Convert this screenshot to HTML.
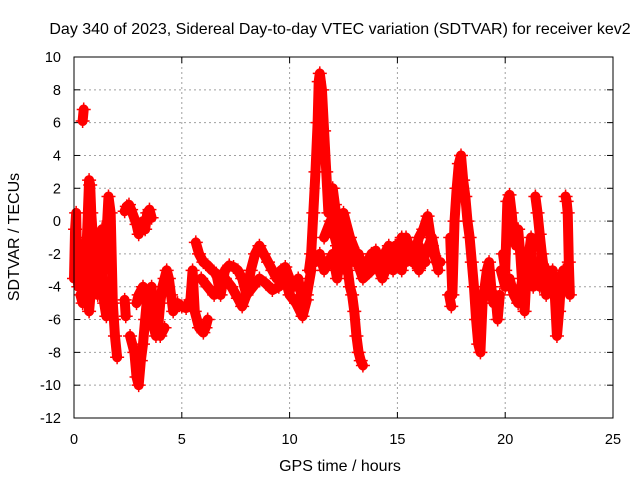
<!DOCTYPE html>
<html><head><meta charset="utf-8"><style>
body{margin:0;background:#fff}
svg{display:block;font-family:"Liberation Sans",sans-serif}
</style></head><body>
<svg id="c" width="640" height="480">
<text x="340" y="34" font-size="16" text-anchor="middle">Day 340 of 2023, Sidereal Day-to-day VTEC variation (SDTVAR) for receiver kev2</text>
<text x="340" y="471" font-size="16" text-anchor="middle">GPS time / hours</text>
<text transform="translate(19,237) rotate(-90)" font-size="16" text-anchor="middle">SDTVAR / TECUs</text>
<g id="grid"></g>
<g id="ticks"></g>
<g id="data"></g>
<rect x="74" y="57" width="539" height="361" fill="none" stroke="#000" stroke-width="1"/>
</svg>
<script>
const xTicks=[0,5,10,15,20,25];
const yTicks=[10,8,6,4,2,0,-2,-4,-6,-8,-10,-12];
const t1=[0,0.05,0.1,0.15,0.2,0.3,0.35,0.4,0.5,0.6,0.7,0.75,0.8,0.9,1.0,1.1,1.2,1.3,1.4,1.5,1.6,1.7,1.8,1.85,1.9,2.0];
const v1=[-3.5,-0.5,0.5,-3,-4,-2,-3.5,-1.5,-2,-1,2.5,2.2,0.5,-1.5,-3,-4.5,-2,-0.5,-3,-1,1.5,0.5,-5,-6,-7,-8.3];
const t2=[0.3,0.4,0.5,0.6,0.7,0.8,0.9,1.0,1.1,1.2,1.3,1.4,1.5,1.6];
const v2=[-4.5,-5,-3,-4,-5.5,-4,-2.5,-4,-3,-1.5,-3,-5,-5.8,-4.5];
const t3=[0.4,0.45];
const v3=[6.1,6.8];
const t4=[2.35,2.45,2.55,2.65,2.9,3.0,3.1,3.2,3.3,3.4,3.5,3.6];
const v4=[0.6,0.9,1.0,0.7,-0.2,-0.8,-0.4,0,-0.5,0.5,0.7,0.2];
const t5=[2.35,2.4];
const v5=[-4.8,-5.8];
const t6=[2.6,2.8,2.9,3.0,3.1,3.2,3.3,3.4,3.5,3.6,3.7,3.8,3.9,4.0,4.1,4.2,4.3,4.4,4.5,4.6,4.8,5.0,5.2,5.3,5.4,5.5,5.6,5.8,6.0,6.1,6.2];
const v6=[-7,-8,-9.5,-10,-8.5,-7.5,-6,-4.5,-5,-4,-6.5,-7,-6.5,-5,-4,-3.5,-3,-3.5,-4.5,-5.5,-5,-5.2,-5.3,-5,-4.8,-3,-5.5,-6.5,-6.8,-6.5,-6];
const t7=[2.9,3.0,3.2,3.4,3.6,3.8,4.0,4.2];
const v7=[-5,-4.5,-4,-5,-6,-6.5,-7,-6.5];
const t8=[5.65,5.8,6.0,6.2,6.4,6.6,6.8,7.0,7.2,7.4,7.6,7.8,8.0,8.2,8.4,8.6,8.8,9.0,9.2,9.4,9.6,9.8,10.0,10.2,10.4,10.6,10.8,11.0];
const v8=[-1.3,-2,-2.5,-2.7,-3,-3.2,-4.5,-3,-2.7,-2.8,-3,-3.5,-4.5,-3,-2,-1.5,-2,-2.5,-3,-3.5,-3,-2.8,-3.5,-4,-3.5,-5,-4.5,-3];
const t9=[5.9,6.2,6.5,6.8,7.0,7.3,7.6,7.8,8.0,8.3,8.6,8.9,9.2,9.5,9.8,10.0,10.3,10.6,10.8];
const v9=[-3.5,-4,-4.5,-4,-3.5,-4,-4.7,-5.2,-4.5,-4,-3.5,-3.8,-4.2,-4,-3.5,-4.5,-5,-5.8,-4.8];
const t10=[10.9,11.0,11.1,11.2,11.3,11.35,11.4,11.5,11.6,11.7,11.8,11.9,12.0,12.1,12.2,12.3,12.4,12.5,12.6,12.7,12.8,12.9,13.0,13.1,13.2,13.3,13.4];
const v10=[-3,-2,0.5,3,6,8.5,9,8,5.5,3,0.5,1.5,2,1,0,-1,-2,-1,-0.5,-3,-4,-4.5,-5.5,-7,-8,-8.5,-8.8];
const t11=[11.2,11.4,11.6,11.8,12.0,12.2,12.4,12.6,12.8,13.0,13.2,13.4,13.6,13.8,14.0,14.2,14.4,14.6,14.8,15.0,15.2,15.4,15.6,15.8,16.0,16.2,16.4,16.6,16.8,17.0];
const v11=[-2.5,-2,-3,-2.5,-2,-3.5,-2,-3,-2,-2.5,-2,-3,-2.5,-2,-1.8,-2.8,-2,-1.5,-2.5,-2,-1,-2.5,-1.5,-2,-1,-0.5,0.3,-1.5,-2.5,-2.5];
const t12=[13.0,13.4,13.8,14.0,14.3,14.6,14.9,15.2,15.4,15.7,16.0,16.3,16.6,16.9];
const v12=[-2,-3.5,-3,-2.5,-3.5,-2.5,-1.5,-3,-1,-2,-3,-2,-1,-3];
const t13=[17.45,17.55,17.65,17.75,17.85,17.95,18.05,18.15,18.25,18.35,18.45,18.55,18.65,18.75,18.85,18.95,19.05,19.15,19.25,19.35,19.45,19.55,19.65,19.75];
const v13=[-1,-4.5,0,2,3.5,4,2.5,1.5,0,-1,-2.5,-4,-6,-7.5,-8,-5,-4,-3,-2.5,-4,-5,-4.5,-6,-4.5];
const t14=[17.4,17.5];
const v14=[-4.5,-5.2];
const t15=[19.9,20.0,20.1,20.2,20.3,20.4,20.5,20.6,20.7,20.8,20.9,21.0,21.1,21.2,21.3,21.4,21.5,21.6,21.7,21.8,21.9,22.0,22.1,22.2];
const v15=[-2,-3,1.2,1.6,0.5,-1,-1.5,-0.5,-2,-4,-5.5,-3,-2,-1,-4,-3.5,-2.5,-4,-3,-3.5,-4.5,-3,-3.5,-4];
const t16=[19.8,20.0,20.2,20.4,20.6,20.8,21.0];
const v16=[-3,-4,-3.5,-4.5,-5,-3.5,-2.5];
const t17=[21.4,21.5,21.6,21.7,21.8];
const v17=[1.5,0.5,-0.8,-2,-3];
const t18=[22.0,22.2,22.3,22.4,22.5,22.6,22.7];
const v18=[-4,-3,-4.5,-7,-5.5,-3.5,-3];
const t19=[22.8,22.85,22.9,22.95,23.0];
const v19=[1.5,1.2,0.5,-2.5,-4.5];
const t20=[0.6,0.8,1.0,1.2,1.4,1.6];
const v20=[-2,-3,-1,-2.5,-1.5,0];
const t21=[11.6,11.9,12.2,12.5,12.8,13.1];
const v21=[-1,0,-1.5,0.5,-1,-2];
const t22=[14.5,14.8,15.1,15.4,15.7,16.0,16.3];
const v22=[-2,-3,-2,-1.5,-2.5,-1.5,-2.5];

const NS="http://www.w3.org/2000/svg";
const X0=74,X1=613,Y0=418,Y1=57;
function xs(t){return X0+(t-0)/(25-0)*(X1-X0);}
function ys(v){return Y0-(v+12)/(22)*(Y0-Y1);}
function mk(tag,attrs,parent){const e=document.createElementNS(NS,tag);for(const k in attrs)e.setAttribute(k,attrs[k]);parent.appendChild(e);return e;}
const grid=document.getElementById('grid'),ticks=document.getElementById('ticks'),data=document.getElementById('data');
xTicks.forEach(t=>{
  const x=xs(t);
  if(t>0&&t<25){const g=mk('line',{x1:x,x2:x,y1:Y1,y2:Y0,stroke:'#a0a0a0','stroke-dasharray':'2,3'},grid);
  
  }
  mk('line',{x1:x,x2:x,y1:Y0,y2:Y0-6,stroke:'#000'},ticks);
  mk('line',{x1:x,x2:x,y1:Y1,y2:Y1+6,stroke:'#000'},ticks);
  const l=mk('text',{x:x,y:444,'font-size':14.5,'text-anchor':'middle'},ticks);
  l.textContent=t;
  
  
});
yTicks.forEach(v=>{
  const y=ys(v);
  if(v>-12&&v<10){const g=mk('line',{x1:X0,x2:X1,y1:y,y2:y,stroke:'#a0a0a0','stroke-dasharray':'2,3'},grid);
  
  }
  mk('line',{x1:X0,x2:X0+6,y1:y,y2:y,stroke:'#000'},ticks);
  mk('line',{x1:X1,x2:X1-6,y1:y,y2:y,stroke:'#000'},ticks);
  const l=mk('text',{x:61,y:y+5,'font-size':14.5,'text-anchor':'end'},ticks);
  l.textContent=v;
  
  
});
const tracks=[[t1,v1],[t2,v2],[t3,v3],[t4,v4],[t5,v5],[t6,v6],[t7,v7],[t8,v8],[t9,v9],[t10,v10],[t11,v11],[t12,v12],[t13,v13],[t14,v14],[t15,v15],[t16,v16],[t17,v17],[t18,v18],[t19,v19],[t20,v20],[t21,v21],[t22,v22]];
tracks.forEach(([ts,vs])=>{
  const pts=ts.map((t,i)=>xs(t)+','+ys(vs[i])).join(' ');
  const pl=mk('polyline',{points:pts,fill:'none',stroke:'#ff0000','stroke-width':10,'stroke-linejoin':'round','stroke-linecap':'round'},data);
  
  
  ts.forEach((t,i)=>{
    const x=xs(t),y=ys(vs[i]);
    const p=mk('path',{d:`M${x-7},${y}H${x+7}M${x},${y-7}V${y+7}`,stroke:'#ff0000','stroke-width':1.5},data);
    
    
  });
});
</script>
</body></html>
